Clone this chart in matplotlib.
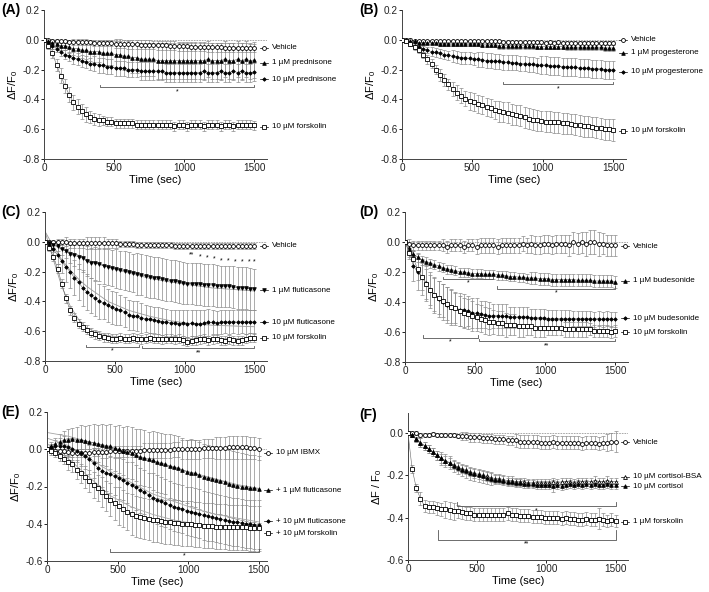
import matplotlib

matplotlib.use("Agg")
import matplotlib.pyplot as plt

plt.rcParams["font.family"] = ["Liberation Sans", "DejaVu Sans"]
plt.rcParams["mathtext.default"] = "regular"

# sampling grid (sec)
time_s = list(range(0, 1501, 30))

# ---------------- panel A ----------------
a_vehicle = [0.000, -0.003, -0.005, -0.007, -0.009, -0.010, -0.012, -0.013, -0.015, -0.016,
             -0.017, -0.018, -0.020, -0.021, -0.022, -0.023, -0.024, -0.025, -0.027, -0.028,
             -0.029, -0.030, -0.031, -0.032, -0.033, -0.034, -0.035, -0.036, -0.037, -0.038,
             -0.040, -0.041, -0.042, -0.043, -0.044, -0.045, -0.046, -0.047, -0.048, -0.049,
             -0.050, -0.050, -0.051, -0.052, -0.052, -0.053, -0.053, -0.054, -0.054, -0.055, -0.055]
a_vehicle_err = [0.00, 0.01, 0.01, 0.01, 0.01, 0.01, 0.01, 0.02, 0.02, 0.02,
                 0.02, 0.02, 0.02, 0.02, 0.02, 0.02, 0.02, 0.03, 0.03, 0.03,
                 0.03, 0.03, 0.03, 0.03, 0.03, 0.03, 0.03, 0.03, 0.03, 0.03,
                 0.03, 0.03, 0.03, 0.03, 0.03, 0.03, 0.03, 0.03, 0.03, 0.03,
                 0.03, 0.03, 0.03, 0.03, 0.03, 0.03, 0.03, 0.03, 0.03, 0.03, 0.03]
a_pred1 = [0.00, -0.01, -0.02, -0.03, -0.04, -0.04, -0.05, -0.06, -0.06, -0.07,
           -0.07, -0.08, -0.08, -0.08, -0.09, -0.09, -0.09, -0.10, -0.10, -0.11,
           -0.11, -0.12, -0.12, -0.13, -0.13, -0.13, -0.13, -0.14, -0.14, -0.14,
           -0.14, -0.14, -0.14, -0.14, -0.14, -0.14, -0.14, -0.14, -0.14, -0.13,
           -0.14, -0.14, -0.14, -0.13, -0.14, -0.14, -0.13, -0.14, -0.13, -0.14, -0.135]
a_pred1_err = [0.00, 0.01, 0.02, 0.02, 0.03, 0.03, 0.04, 0.04, 0.05, 0.05,
               0.06, 0.06, 0.07, 0.07, 0.08, 0.08, 0.08, 0.09, 0.09, 0.09,
               0.10, 0.10, 0.10, 0.11, 0.11, 0.11, 0.11, 0.12, 0.12, 0.12,
               0.12, 0.12, 0.12, 0.12, 0.12, 0.12, 0.12, 0.12, 0.12, 0.12,
               0.12, 0.12, 0.12, 0.12, 0.12, 0.12, 0.12, 0.12, 0.12, 0.12, 0.12]
a_pred10 = [0.00, -0.02, -0.04, -0.06, -0.08, -0.10, -0.11, -0.12, -0.13, -0.14,
            -0.15, -0.16, -0.16, -0.17, -0.17, -0.18, -0.18, -0.19, -0.19, -0.19,
            -0.20, -0.20, -0.20, -0.21, -0.21, -0.21, -0.21, -0.21, -0.21, -0.22,
            -0.22, -0.22, -0.22, -0.22, -0.22, -0.22, -0.22, -0.22, -0.21, -0.22,
            -0.22, -0.22, -0.21, -0.22, -0.22, -0.21, -0.22, -0.21, -0.22, -0.22, -0.215]
a_pred10_err = [0.00, 0.01, 0.02, 0.02, 0.03, 0.03, 0.03, 0.04, 0.04, 0.04,
                0.04, 0.04, 0.05, 0.05, 0.05, 0.05, 0.05, 0.05, 0.05, 0.05,
                0.05, 0.05, 0.05, 0.06, 0.06, 0.06, 0.06, 0.06, 0.06, 0.06,
                0.06, 0.06, 0.06, 0.06, 0.06, 0.06, 0.06, 0.06, 0.06, 0.06,
                0.06, 0.06, 0.06, 0.06, 0.06, 0.06, 0.06, 0.06, 0.06, 0.06, 0.06]
a_fsk = [0.00, -0.04, -0.09, -0.17, -0.24, -0.31, -0.37, -0.42, -0.45, -0.48,
         -0.50, -0.52, -0.53, -0.54, -0.54, -0.55, -0.55, -0.56, -0.56, -0.56,
         -0.56, -0.56, -0.57, -0.57, -0.57, -0.57, -0.57, -0.57, -0.57, -0.57,
         -0.57, -0.58, -0.57, -0.57, -0.58, -0.57, -0.57, -0.57, -0.58, -0.57,
         -0.57, -0.57, -0.58, -0.57, -0.57, -0.58, -0.57, -0.57, -0.57, -0.57, -0.575]
a_fsk_err = [0.00, 0.02, 0.03, 0.04, 0.05, 0.05, 0.05, 0.05, 0.05, 0.05,
             0.05, 0.04, 0.04, 0.04, 0.03, 0.03, 0.03, 0.03, 0.03, 0.03,
             0.03, 0.03, 0.03, 0.03, 0.03, 0.03, 0.03, 0.03, 0.03, 0.03,
             0.03, 0.03, 0.03, 0.03, 0.03, 0.03, 0.03, 0.03, 0.03, 0.03,
             0.03, 0.03, 0.03, 0.03, 0.03, 0.03, 0.03, 0.03, 0.03, 0.03, 0.03]

# ---------------- panel B ----------------
b_vehicle = [0.00, -0.00, -0.00, -0.01, -0.01, -0.01, -0.01, -0.01, -0.01, -0.01,
             -0.01, -0.01, -0.01, -0.01, -0.01, -0.01, -0.01, -0.01, -0.01, -0.01,
             -0.01, -0.01, -0.01, -0.01, -0.015, -0.015, -0.015, -0.015, -0.015, -0.015,
             -0.015, -0.015, -0.015, -0.015, -0.02, -0.015, -0.02, -0.015, -0.02, -0.02,
             -0.02, -0.02, -0.02, -0.02, -0.02, -0.02, -0.02, -0.02, -0.02, -0.02, -0.02]
b_vehicle_err = [0.00, 0.01, 0.01, 0.01, 0.01, 0.01, 0.01, 0.01, 0.01, 0.01,
                 0.01, 0.01, 0.01, 0.01, 0.01, 0.01, 0.01, 0.01, 0.01, 0.01,
                 0.01, 0.01, 0.01, 0.01, 0.01, 0.01, 0.01, 0.01, 0.01, 0.01,
                 0.01, 0.01, 0.01, 0.01, 0.01, 0.01, 0.01, 0.01, 0.01, 0.01,
                 0.01, 0.01, 0.01, 0.01, 0.01, 0.01, 0.01, 0.01, 0.01, 0.01, 0.01]
b_prog1 = [0.00, -0.00, -0.01, -0.01, -0.02, -0.02, -0.02, -0.02, -0.02, -0.03,
           -0.03, -0.03, -0.03, -0.03, -0.03, -0.03, -0.03, -0.03, -0.03, -0.035,
           -0.035, -0.035, -0.035, -0.04, -0.04, -0.04, -0.04, -0.04, -0.04, -0.04,
           -0.04, -0.04, -0.045, -0.045, -0.045, -0.045, -0.045, -0.045, -0.045, -0.05,
           -0.05, -0.05, -0.05, -0.05, -0.05, -0.05, -0.05, -0.05, -0.055, -0.055, -0.055]
b_prog1_err = [0.00, 0.01, 0.01, 0.01, 0.01, 0.01, 0.01, 0.01, 0.01, 0.01,
               0.01, 0.01, 0.01, 0.01, 0.01, 0.01, 0.01, 0.01, 0.01, 0.01,
               0.01, 0.01, 0.01, 0.02, 0.02, 0.02, 0.02, 0.02, 0.02, 0.02,
               0.02, 0.02, 0.02, 0.02, 0.02, 0.02, 0.02, 0.02, 0.02, 0.02,
               0.02, 0.02, 0.02, 0.02, 0.02, 0.02, 0.02, 0.02, 0.02, 0.02, 0.02]
b_prog10 = [0.00, -0.01, -0.03, -0.04, -0.05, -0.06, -0.07, -0.08, -0.085, -0.09,
            -0.10, -0.105, -0.11, -0.115, -0.12, -0.12, -0.125, -0.13, -0.13, -0.135,
            -0.14, -0.14, -0.145, -0.145, -0.15, -0.15, -0.155, -0.155, -0.16, -0.16,
            -0.165, -0.165, -0.17, -0.17, -0.17, -0.175, -0.175, -0.175, -0.18, -0.18,
            -0.185, -0.185, -0.19, -0.19, -0.19, -0.195, -0.195, -0.195, -0.20, -0.20, -0.20]
b_prog10_err = [0.00, 0.01, 0.01, 0.02, 0.02, 0.02, 0.02, 0.03, 0.03, 0.03,
                0.03, 0.03, 0.04, 0.04, 0.04, 0.04, 0.04, 0.04, 0.05, 0.05,
                0.05, 0.05, 0.05, 0.05, 0.05, 0.05, 0.05, 0.05, 0.05, 0.05,
                0.05, 0.05, 0.05, 0.06, 0.06, 0.06, 0.06, 0.06, 0.06, 0.06,
                0.06, 0.06, 0.06, 0.06, 0.06, 0.06, 0.06, 0.06, 0.06, 0.06, 0.06]
b_fsk = [0.00, -0.01, -0.03, -0.05, -0.07, -0.10, -0.13, -0.16, -0.20, -0.235,
         -0.27, -0.30, -0.33, -0.355, -0.375, -0.395, -0.41, -0.42, -0.43, -0.44,
         -0.45, -0.46, -0.47, -0.48, -0.485, -0.49, -0.50, -0.505, -0.51, -0.52,
         -0.53, -0.535, -0.54, -0.545, -0.55, -0.55, -0.555, -0.555, -0.56, -0.56,
         -0.565, -0.57, -0.575, -0.58, -0.58, -0.585, -0.59, -0.595, -0.60, -0.60, -0.605]
b_fsk_err = [0.00, 0.01, 0.01, 0.02, 0.02, 0.02, 0.03, 0.03, 0.03, 0.04,
             0.04, 0.04, 0.05, 0.05, 0.05, 0.05, 0.06, 0.06, 0.06, 0.06,
             0.06, 0.06, 0.06, 0.07, 0.07, 0.07, 0.07, 0.07, 0.07, 0.07,
             0.07, 0.07, 0.07, 0.07, 0.07, 0.07, 0.07, 0.07, 0.07, 0.07,
             0.07, 0.07, 0.07, 0.07, 0.07, 0.07, 0.07, 0.07, 0.07, 0.07, 0.075]

# ---------------- panel C ----------------
c_vehicle = [0.00, 0.00, 0.00, 0.00, -0.00, -0.00, -0.01, -0.01, -0.01, -0.01,
             -0.01, -0.01, -0.01, -0.01, -0.01, -0.01, -0.01, -0.01, -0.015, -0.015,
             -0.015, -0.015, -0.02, -0.02, -0.02, -0.02, -0.02, -0.02, -0.02, -0.02,
             -0.02, -0.025, -0.025, -0.025, -0.025, -0.025, -0.025, -0.025, -0.025, -0.025,
             -0.025, -0.03, -0.03, -0.03, -0.03, -0.03, -0.03, -0.03, -0.03, -0.03, -0.03]
c_vehicle_err = [0.00, 0.01, 0.01, 0.02, 0.02, 0.03, 0.03, 0.03, 0.03, 0.03,
                 0.04, 0.04, 0.04, 0.04, 0.04, 0.03, 0.03, 0.03, 0.02, 0.02,
                 0.02, 0.02, 0.02, 0.02, 0.02, 0.02, 0.02, 0.02, 0.02, 0.02,
                 0.02, 0.02, 0.02, 0.02, 0.02, 0.02, 0.02, 0.02, 0.02, 0.02,
                 0.02, 0.02, 0.02, 0.02, 0.02, 0.02, 0.02, 0.02, 0.02, 0.02, 0.02]
c_flu1 = [0.00, -0.01, -0.02, -0.03, -0.05, -0.06, -0.08, -0.09, -0.10, -0.11,
          -0.13, -0.14, -0.145, -0.15, -0.16, -0.17, -0.175, -0.18, -0.19, -0.195,
          -0.20, -0.21, -0.215, -0.22, -0.23, -0.235, -0.24, -0.245, -0.25, -0.255,
          -0.26, -0.265, -0.27, -0.275, -0.28, -0.28, -0.285, -0.285, -0.29, -0.29,
          -0.29, -0.295, -0.30, -0.30, -0.30, -0.305, -0.31, -0.31, -0.31, -0.315, -0.32]
c_flu1_err = [0.00, 0.01, 0.02, 0.03, 0.04, 0.05, 0.06, 0.07, 0.08, 0.09,
              0.10, 0.10, 0.11, 0.11, 0.12, 0.12, 0.12, 0.13, 0.13, 0.13,
              0.13, 0.13, 0.14, 0.14, 0.14, 0.14, 0.14, 0.14, 0.14, 0.14,
              0.14, 0.14, 0.14, 0.14, 0.14, 0.14, 0.14, 0.14, 0.14, 0.14,
              0.14, 0.14, 0.14, 0.14, 0.14, 0.14, 0.14, 0.14, 0.14, 0.14, 0.14]
c_flu10 = [0.00, -0.02, -0.05, -0.09, -0.13, -0.17, -0.20, -0.24, -0.27, -0.31,
           -0.335, -0.36, -0.38, -0.40, -0.41, -0.425, -0.44, -0.45, -0.46, -0.47,
           -0.49, -0.495, -0.50, -0.51, -0.515, -0.52, -0.525, -0.53, -0.535, -0.54,
           -0.545, -0.545, -0.55, -0.545, -0.55, -0.545, -0.55, -0.55, -0.545, -0.54,
           -0.54, -0.545, -0.54, -0.535, -0.54, -0.535, -0.54, -0.535, -0.54, -0.535, -0.54]
c_flu10_err = [0.00, 0.02, 0.04, 0.06, 0.08, 0.10, 0.11, 0.12, 0.12, 0.12,
               0.12, 0.12, 0.12, 0.12, 0.11, 0.11, 0.11, 0.11, 0.10, 0.10,
               0.10, 0.10, 0.10, 0.10, 0.09, 0.09, 0.09, 0.09, 0.09, 0.09,
               0.09, 0.09, 0.09, 0.09, 0.09, 0.09, 0.09, 0.09, 0.09, 0.09,
               0.08, 0.08, 0.08, 0.08, 0.08, 0.08, 0.08, 0.08, 0.08, 0.08, 0.08]
c_fsk = [0.00, -0.04, -0.10, -0.18, -0.28, -0.38, -0.46, -0.51, -0.55, -0.57,
         -0.59, -0.61, -0.62, -0.63, -0.64, -0.645, -0.65, -0.65, -0.645, -0.65,
         -0.65, -0.645, -0.65, -0.655, -0.65, -0.645, -0.65, -0.65, -0.655, -0.65,
         -0.65, -0.655, -0.65, -0.66, -0.67, -0.665, -0.66, -0.655, -0.65, -0.66,
         -0.655, -0.65, -0.66, -0.665, -0.655, -0.66, -0.665, -0.66, -0.65, -0.645, -0.645]
c_fsk_err = [0.00, 0.02, 0.03, 0.03, 0.03, 0.03, 0.03, 0.03, 0.03, 0.03,
             0.03, 0.03, 0.03, 0.03, 0.03, 0.03, 0.03, 0.03, 0.03, 0.03,
             0.03, 0.03, 0.03, 0.03, 0.03, 0.03, 0.03, 0.03, 0.03, 0.03,
             0.03, 0.03, 0.03, 0.03, 0.03, 0.03, 0.03, 0.03, 0.03, 0.03,
             0.03, 0.03, 0.03, 0.03, 0.03, 0.03, 0.03, 0.03, 0.03, 0.03, 0.03]
# one-phase fits drawn in grey
c_fit_t = [0, 60, 120, 180, 240, 300, 450, 600, 750, 900, 1050, 1200, 1350, 1500]
c_fit_flu1 = [0.0, -0.02, -0.05, -0.07, -0.09, -0.12, -0.17, -0.21, -0.245, -0.27, -0.29, -0.31, -0.32, -0.33]
c_fit_flu10 = [0.07, -0.03, -0.12, -0.19, -0.25, -0.30, -0.40, -0.46, -0.50, -0.53, -0.55, -0.56, -0.565, -0.57]
c_fit_fsk = [0.07, -0.12, -0.30, -0.43, -0.52, -0.58, -0.63, -0.645, -0.65, -0.65, -0.65, -0.65, -0.65, -0.65]
c_star_t = [1050, 1110, 1160, 1210, 1260, 1310, 1360, 1410, 1460, 1500]
c_star_y = [-0.09, -0.10, -0.11, -0.115, -0.125, -0.13, -0.135, -0.135, -0.135, -0.135]
c_star_txt = ["**", "*", "*", "*", "*", "*", "*", "*", "*", "*"]

# ---------------- panel D ----------------
d_vehicle = [0.00, -0.01, -0.02, -0.02, -0.02, -0.02, -0.02, -0.02, -0.02, -0.02,
             -0.03, -0.02, -0.02, -0.02, -0.03, -0.02, -0.02, -0.03, -0.02, -0.02,
             -0.02, -0.02, -0.03, -0.02, -0.02, -0.02, -0.02, -0.02, -0.01, -0.02,
             -0.01, -0.02, -0.02, -0.01, -0.01, -0.02, -0.01, -0.01, -0.01, -0.02,
             0.00, -0.01, 0.00, -0.01, 0.00, 0.00, -0.01, -0.01, -0.02, -0.02, -0.02]
d_vehicle_err = [0.00, 0.03, 0.03, 0.03, 0.03, 0.03, 0.03, 0.03, 0.03, 0.04,
                 0.04, 0.04, 0.04, 0.04, 0.04, 0.04, 0.04, 0.05, 0.05, 0.05,
                 0.05, 0.05, 0.05, 0.05, 0.05, 0.05, 0.05, 0.05, 0.05, 0.05,
                 0.06, 0.06, 0.06, 0.06, 0.06, 0.06, 0.06, 0.06, 0.06, 0.07,
                 0.07, 0.07, 0.07, 0.08, 0.08, 0.08, 0.08, 0.07, 0.07, 0.07, 0.07]
d_bud1 = [0.00, -0.04, -0.08, -0.10, -0.12, -0.13, -0.14, -0.15, -0.16, -0.17,
          -0.18, -0.185, -0.19, -0.20, -0.20, -0.205, -0.21, -0.21, -0.21, -0.215,
          -0.215, -0.215, -0.22, -0.22, -0.225, -0.23, -0.23, -0.235, -0.235, -0.24,
          -0.24, -0.24, -0.245, -0.245, -0.245, -0.25, -0.25, -0.25, -0.25, -0.25,
          -0.25, -0.255, -0.255, -0.255, -0.255, -0.26, -0.26, -0.26, -0.26, -0.26, -0.265]
d_bud1_err = [0.00, 0.02, 0.03, 0.03, 0.03, 0.03, 0.03, 0.03, 0.03, 0.03,
              0.03, 0.03, 0.03, 0.03, 0.03, 0.03, 0.03, 0.03, 0.03, 0.03,
              0.03, 0.03, 0.03, 0.03, 0.03, 0.03, 0.03, 0.03, 0.03, 0.03,
              0.04, 0.04, 0.04, 0.04, 0.04, 0.04, 0.04, 0.04, 0.04, 0.04,
              0.04, 0.04, 0.04, 0.04, 0.04, 0.04, 0.04, 0.04, 0.04, 0.04, 0.04]
d_bud10 = [0.00, -0.06, -0.16, -0.20, -0.23, -0.27, -0.32, -0.35, -0.38, -0.40,
           -0.42, -0.43, -0.44, -0.45, -0.455, -0.46, -0.47, -0.475, -0.48, -0.485,
           -0.49, -0.49, -0.49, -0.495, -0.495, -0.50, -0.50, -0.50, -0.50, -0.50,
           -0.505, -0.505, -0.505, -0.505, -0.51, -0.51, -0.51, -0.51, -0.51, -0.51,
           -0.51, -0.51, -0.51, -0.51, -0.51, -0.515, -0.51, -0.515, -0.51, -0.515, -0.515]
d_bud10_err = [0.00, 0.05, 0.10, 0.12, 0.12, 0.12, 0.12, 0.12, 0.12, 0.12,
               0.12, 0.12, 0.11, 0.11, 0.11, 0.10, 0.10, 0.10, 0.09, 0.09,
               0.09, 0.08, 0.08, 0.08, 0.08, 0.07, 0.07, 0.07, 0.07, 0.07,
               0.06, 0.06, 0.06, 0.06, 0.06, 0.06, 0.06, 0.06, 0.06, 0.06,
               0.05, 0.05, 0.05, 0.05, 0.05, 0.05, 0.05, 0.05, 0.05, 0.05, 0.05]
d_fsk = [0.00, -0.07, -0.11, -0.18, -0.23, -0.28, -0.32, -0.35, -0.37, -0.39,
         -0.41, -0.43, -0.44, -0.46, -0.47, -0.48, -0.49, -0.50, -0.51, -0.52,
         -0.53, -0.53, -0.54, -0.54, -0.55, -0.55, -0.55, -0.56, -0.56, -0.56,
         -0.56, -0.57, -0.57, -0.57, -0.57, -0.57, -0.57, -0.57, -0.58, -0.58,
         -0.58, -0.58, -0.58, -0.58, -0.58, -0.59, -0.59, -0.59, -0.59, -0.60, -0.595]
d_fsk_err = [0.00, 0.03, 0.05, 0.07, 0.09, 0.10, 0.10, 0.11, 0.11, 0.11,
             0.11, 0.11, 0.10, 0.10, 0.10, 0.10, 0.10, 0.09, 0.09, 0.09,
             0.09, 0.08, 0.08, 0.08, 0.08, 0.07, 0.07, 0.07, 0.07, 0.06,
             0.06, 0.06, 0.06, 0.06, 0.05, 0.05, 0.05, 0.05, 0.05, 0.05,
             0.05, 0.05, 0.05, 0.05, 0.04, 0.04, 0.04, 0.04, 0.04, 0.04, 0.04]

# ---------------- panel E ----------------
e_ibmx = [0.00, -0.00, -0.01, -0.01, -0.01, -0.015, -0.02, -0.02, -0.02, -0.02,
          -0.02, -0.015, -0.015, -0.015, -0.015, -0.01, -0.01, -0.01, -0.01, -0.01,
          -0.01, -0.01, -0.01, -0.005, -0.005, -0.005, -0.005, -0.005, -0.005, -0.005,
          0.00, 0.00, 0.00, 0.00, 0.00, 0.00, 0.00, 0.005, 0.005, 0.005,
          0.005, 0.005, 0.005, 0.01, 0.01, 0.01, 0.01, 0.01, 0.005, 0.005, 0.00]
e_ibmx_err = [0.00, 0.01, 0.01, 0.01, 0.02, 0.02, 0.02, 0.02, 0.02, 0.02,
              0.02, 0.02, 0.02, 0.03, 0.03, 0.03, 0.03, 0.03, 0.03, 0.03,
              0.03, 0.03, 0.03, 0.04, 0.04, 0.04, 0.04, 0.04, 0.04, 0.04,
              0.04, 0.04, 0.05, 0.05, 0.05, 0.05, 0.05, 0.05, 0.05, 0.05,
              0.06, 0.06, 0.06, 0.06, 0.06, 0.06, 0.06, 0.06, 0.06, 0.06, 0.06]
e_flu1 = [0.00, 0.02, 0.03, 0.04, 0.05, 0.05, 0.055, 0.05, 0.05, 0.045,
          0.04, 0.035, 0.03, 0.025, 0.02, 0.015, 0.005, 0.00, -0.01, -0.015,
          -0.02, -0.03, -0.04, -0.045, -0.055, -0.06, -0.07, -0.075, -0.08, -0.09,
          -0.095, -0.10, -0.11, -0.12, -0.125, -0.13, -0.14, -0.15, -0.155, -0.16,
          -0.165, -0.17, -0.175, -0.185, -0.19, -0.195, -0.20, -0.205, -0.21, -0.21, -0.215]
e_flu1_err = [0.00, 0.02, 0.03, 0.04, 0.05, 0.06, 0.06, 0.07, 0.08, 0.08,
              0.09, 0.10, 0.10, 0.11, 0.11, 0.12, 0.12, 0.13, 0.13, 0.14,
              0.14, 0.14, 0.15, 0.15, 0.15, 0.16, 0.16, 0.16, 0.16, 0.17,
              0.17, 0.17, 0.17, 0.17, 0.18, 0.18, 0.18, 0.18, 0.18, 0.18,
              0.18, 0.18, 0.18, 0.18, 0.18, 0.18, 0.18, 0.18, 0.18, 0.18, 0.18]
e_flu10 = [0.00, 0.01, 0.02, 0.02, 0.02, 0.01, 0.00, -0.01, -0.02, -0.035,
           -0.055, -0.075, -0.10, -0.115, -0.125, -0.135, -0.145, -0.155, -0.165, -0.18,
           -0.19, -0.205, -0.22, -0.23, -0.245, -0.26, -0.27, -0.28, -0.29, -0.30,
           -0.31, -0.315, -0.32, -0.33, -0.335, -0.34, -0.345, -0.355, -0.36, -0.365,
           -0.37, -0.375, -0.38, -0.385, -0.39, -0.39, -0.395, -0.40, -0.40, -0.405, -0.405]
e_flu10_err = [0.00, 0.02, 0.03, 0.04, 0.05, 0.05, 0.06, 0.06, 0.07, 0.07,
               0.08, 0.08, 0.09, 0.09, 0.10, 0.10, 0.10, 0.11, 0.11, 0.11,
               0.12, 0.12, 0.12, 0.12, 0.12, 0.13, 0.13, 0.13, 0.13, 0.13,
               0.13, 0.13, 0.13, 0.13, 0.13, 0.13, 0.13, 0.13, 0.13, 0.13,
               0.13, 0.13, 0.13, 0.13, 0.13, 0.13, 0.13, 0.13, 0.13, 0.13, 0.13]
e_fsk = [0.00, -0.01, -0.02, -0.035, -0.05, -0.07, -0.08, -0.11, -0.13, -0.15,
         -0.17, -0.19, -0.21, -0.23, -0.25, -0.27, -0.29, -0.305, -0.32, -0.335,
         -0.35, -0.36, -0.365, -0.37, -0.375, -0.38, -0.38, -0.385, -0.39, -0.39,
         -0.395, -0.395, -0.40, -0.40, -0.40, -0.405, -0.405, -0.41, -0.41, -0.41,
         -0.415, -0.415, -0.415, -0.42, -0.42, -0.42, -0.42, -0.42, -0.425, -0.425, -0.425]
e_fsk_err = [0.00, 0.02, 0.02, 0.03, 0.03, 0.04, 0.04, 0.05, 0.05, 0.06,
             0.06, 0.07, 0.07, 0.08, 0.08, 0.09, 0.09, 0.10, 0.10, 0.10,
             0.11, 0.11, 0.11, 0.11, 0.11, 0.12, 0.12, 0.12, 0.12, 0.12,
             0.12, 0.12, 0.12, 0.12, 0.12, 0.12, 0.12, 0.12, 0.12, 0.12,
             0.12, 0.12, 0.12, 0.12, 0.12, 0.12, 0.12, 0.12, 0.12, 0.12, 0.12]
e_fit_t = [0, 150, 300, 450, 600, 750, 900, 1050, 1200, 1350, 1500]
e_fit_flu1 = [0.09, 0.07, 0.04, 0.01, -0.03, -0.07, -0.10, -0.13, -0.16, -0.19, -0.21]
e_fit_flu10 = [0.06, 0.02, -0.05, -0.12, -0.18, -0.24, -0.28, -0.32, -0.35, -0.37, -0.39]
e_fit_fsk = [0.03, -0.05, -0.15, -0.25, -0.31, -0.35, -0.38, -0.40, -0.41, -0.42, -0.425]

# ---------------- panel F ----------------
f_vehicle = [0.00, -0.00, -0.00, -0.01, -0.01, -0.01, -0.005, -0.01, -0.01, -0.01,
             -0.01, -0.01, -0.015, -0.015, -0.015, -0.02, -0.02, -0.02, -0.025, -0.025,
             -0.025, -0.03, -0.03, -0.03, -0.035, -0.035, -0.035, -0.04, -0.04, -0.04,
             -0.04, -0.04, -0.045, -0.045, -0.045, -0.04, -0.045, -0.045, -0.045, -0.045,
             -0.045, -0.045, -0.05, -0.045, -0.045, -0.045, -0.05, -0.045, -0.045, -0.04, -0.04]
f_vehicle_err = [0.00, 0.01, 0.01, 0.01, 0.01, 0.01, 0.01, 0.01, 0.01, 0.01,
                 0.01, 0.01, 0.01, 0.02, 0.02, 0.02, 0.02, 0.02, 0.02, 0.02,
                 0.02, 0.02, 0.02, 0.02, 0.02, 0.02, 0.03, 0.03, 0.03, 0.03,
                 0.03, 0.03, 0.03, 0.03, 0.03, 0.03, 0.03, 0.03, 0.03, 0.03,
                 0.03, 0.03, 0.03, 0.03, 0.03, 0.03, 0.03, 0.03, 0.04, 0.04, 0.05]
f_cort_bsa = [0.00, -0.01, -0.03, -0.045, -0.06, -0.075, -0.09, -0.105, -0.12, -0.13,
              -0.14, -0.15, -0.16, -0.17, -0.175, -0.185, -0.19, -0.195, -0.20, -0.205,
              -0.21, -0.215, -0.215, -0.22, -0.225, -0.225, -0.23, -0.23, -0.23, -0.235,
              -0.235, -0.235, -0.235, -0.235, -0.235, -0.23, -0.235, -0.23, -0.23, -0.23,
              -0.235, -0.23, -0.23, -0.23, -0.23, -0.225, -0.23, -0.23, -0.225, -0.23, -0.23]
f_cort_bsa_err = [0.00, 0.01, 0.01, 0.02, 0.02, 0.02, 0.02, 0.02, 0.02, 0.02,
                  0.02, 0.02, 0.02, 0.02, 0.02, 0.02, 0.02, 0.02, 0.02, 0.02,
                  0.02, 0.02, 0.02, 0.02, 0.02, 0.02, 0.02, 0.02, 0.02, 0.02,
                  0.02, 0.02, 0.02, 0.02, 0.02, 0.02, 0.02, 0.02, 0.02, 0.02,
                  0.02, 0.02, 0.02, 0.02, 0.02, 0.02, 0.02, 0.02, 0.02, 0.02, 0.02]
f_cort = [0.00, -0.01, -0.03, -0.045, -0.06, -0.075, -0.09, -0.105, -0.12, -0.13,
          -0.14, -0.155, -0.165, -0.175, -0.18, -0.19, -0.195, -0.20, -0.205, -0.21,
          -0.215, -0.22, -0.22, -0.225, -0.23, -0.23, -0.235, -0.235, -0.24, -0.24,
          -0.24, -0.245, -0.245, -0.245, -0.245, -0.25, -0.245, -0.25, -0.245, -0.24,
          -0.245, -0.24, -0.245, -0.24, -0.245, -0.24, -0.245, -0.245, -0.24, -0.245, -0.245]
f_cort_err = [0.00, 0.01, 0.01, 0.02, 0.02, 0.02, 0.02, 0.02, 0.03, 0.03,
              0.03, 0.03, 0.03, 0.03, 0.03, 0.03, 0.03, 0.03, 0.03, 0.03,
              0.03, 0.02, 0.02, 0.02, 0.02, 0.02, 0.02, 0.02, 0.02, 0.02,
              0.02, 0.02, 0.02, 0.02, 0.02, 0.03, 0.02, 0.02, 0.02, 0.02,
              0.02, 0.02, 0.02, 0.02, 0.02, 0.02, 0.02, 0.02, 0.02, 0.02, 0.02]
f_fsk = [0.00, -0.17, -0.26, -0.31, -0.345, -0.35, -0.35, -0.355, -0.36, -0.36,
         -0.365, -0.37, -0.37, -0.375, -0.38, -0.38, -0.385, -0.385, -0.385, -0.385,
         -0.385, -0.385, -0.385, -0.385, -0.38, -0.385, -0.385, -0.39, -0.39, -0.39,
         -0.395, -0.395, -0.395, -0.40, -0.40, -0.40, -0.40, -0.405, -0.40, -0.405,
         -0.405, -0.41, -0.41, -0.405, -0.41, -0.41, -0.405, -0.41, -0.415, -0.41, -0.415]
f_fsk_err = [0.00, 0.02, 0.02, 0.03, 0.03, 0.03, 0.03, 0.03, 0.03, 0.04,
             0.04, 0.04, 0.03, 0.03, 0.03, 0.03, 0.03, 0.03, 0.03, 0.03,
             0.03, 0.03, 0.03, 0.03, 0.03, 0.03, 0.03, 0.03, 0.03, 0.03,
             0.03, 0.03, 0.03, 0.03, 0.03, 0.03, 0.03, 0.03, 0.03, 0.03,
             0.03, 0.03, 0.03, 0.03, 0.03, 0.03, 0.05, 0.03, 0.03, 0.03, 0.03]

# marker styles: (marker, size, filled)
STYLE = {
    "open_circle": ("o", 2.8, False),
    "triangle": ("^", 2.6, True),
    "triangle_down": ("v", 2.6, True),
    "open_triangle": ("^", 2.8, False),
    "dot": ("D", 1.8, True),
    "open_square": ("s", 3.4, False),
}

ERR_COLOR = "#8a8a8a"


def check(name, values):
    if len(values) != len(time_s):
        raise ValueError(f"{name} has {len(values)} values")


def plot_series(ax, y, err, style, times=time_s):
    marker, size, filled = STYLE[style]
    ax.errorbar(times, y, yerr=err, fmt="none", ecolor=ERR_COLOR,
                elinewidth=0.5, capsize=1.4, capthick=0.5, zorder=1)
    ax.plot(times, y, color="#666666", linewidth=0.4, marker=marker,
            markersize=size, markeredgewidth=0.6, markeredgecolor="black",
            markerfacecolor="black" if filled else "white", zorder=3)


def inline_label(ax, y, text, style):
    marker, size, filled = STYLE[style]
    ax.plot([1540, 1595], [y, y], color="black", linewidth=0.5, clip_on=False)
    ax.plot([1567], [y], marker=marker, markersize=size, markeredgewidth=0.6,
            markeredgecolor="black",
            markerfacecolor="black" if filled else "white", clip_on=False)
    ax.text(1625, y, text, fontsize=5.8, va="center", ha="left")


def bracket(ax, x0, x1, y, text, h=0.015, dy=0.03):
    ax.plot([x0, x0, x1, x1], [y + h, y, y, y + h], color="#555555",
            linewidth=0.6, zorder=2)
    ax.text((x0 + x1) / 2, y - dy, text, fontsize=5, ha="center", va="center")


def style_axes(ax, ylim, yticks, xmax=1590, ylabel="ΔF/F$_0$"):
    ax.set_xlim(0, xmax)
    ax.set_ylim(*ylim)
    ax.set_xticks([0, 500, 1000, 1500])
    ax.set_yticks(yticks)
    ax.set_yticklabels([f"{v:.1f}" for v in yticks])
    ax.spines["top"].set_visible(False)
    ax.spines["right"].set_visible(False)
    for side in ("left", "bottom"):
        ax.spines[side].set_linewidth(0.7)
        ax.spines[side].set_color("#444444")
    ax.tick_params(direction="out", length=2, width=0.7, labelsize=7.2,
                   pad=1, colors="#222222")
    ax.set_xlabel("Time (sec)", fontsize=8, labelpad=1)
    ax.set_ylabel(ylabel, fontsize=8, labelpad=2)
    ax.axhline(0, color="#9a9a9a", linewidth=0.6, linestyle=(0, (2, 1.2)),
               zorder=0)


def add_axes(fig, left, top, right, bottom):
    W, H = 709, 592
    return fig.add_axes([left / W, 1 - bottom / H, (right - left) / W,
                         (bottom - top) / H])


for name, vals in list(globals().items()):
    if name[:2] in ("a_", "b_", "c_", "d_", "e_", "f_") and "fit" not in name \
            and "star" not in name:
        check(name, vals)

fig = plt.figure(figsize=(7.09, 5.92), dpi=100)
ticks_08 = [0.2, 0.0, -0.2, -0.4, -0.6, -0.8]

# (A) prednisone
ax = add_axes(fig, 44, 10, 267, 159)
style_axes(ax, (-0.8, 0.2), ticks_08)
plot_series(ax, a_vehicle, a_vehicle_err, "open_circle")
plot_series(ax, a_pred1, a_pred1_err, "triangle")
plot_series(ax, a_pred10, a_pred10_err, "dot")
plot_series(ax, a_fsk, a_fsk_err, "open_square")
bracket(ax, 400, 1500, -0.32, "*")
inline_label(ax, -0.053, "Vehicle", "open_circle")
inline_label(ax, -0.153, "1 µM prednisone", "triangle")
inline_label(ax, -0.265, "10 µM prednisone", "dot")
inline_label(ax, -0.585, "10 µM forskolin", "open_square")

# (B) progesterone
ax = add_axes(fig, 402, 10, 626, 159)
style_axes(ax, (-0.8, 0.2), ticks_08)
plot_series(ax, b_vehicle, b_vehicle_err, "open_circle")
plot_series(ax, b_prog1, b_prog1_err, "triangle")
plot_series(ax, b_prog10, b_prog10_err, "dot")
plot_series(ax, b_fsk, b_fsk_err, "open_square")
bracket(ax, 720, 1500, -0.30, "*")
inline_label(ax, 0.0, "Vehicle", "open_circle")
inline_label(ax, -0.086, "1 µM progesterone", "triangle")
inline_label(ax, -0.214, "10 µM progesterone", "dot")
inline_label(ax, -0.61, "10 µM forskolin", "open_square")

# (C) fluticasone
ax = add_axes(fig, 45, 212, 267, 361)
style_axes(ax, (-0.8, 0.2), ticks_08)
for fit in (c_fit_flu1, c_fit_flu10, c_fit_fsk):
    ax.plot(c_fit_t, fit, color="#9a9a9a", linewidth=0.6, zorder=2)
plot_series(ax, c_vehicle, c_vehicle_err, "open_circle")
plot_series(ax, c_flu1, c_flu1_err, "triangle_down")
plot_series(ax, c_flu10, c_flu10_err, "dot")
plot_series(ax, c_fsk, c_fsk_err, "open_square")
for t, y, s in zip(c_star_t, c_star_y, c_star_txt):
    ax.text(t, y, s, fontsize=5, ha="center", va="center")
bracket(ax, 295, 675, -0.705, "*")
bracket(ax, 695, 1500, -0.715, "**")
inline_label(ax, -0.025, "Vehicle", "open_circle")
inline_label(ax, -0.324, "1 µM fluticasone", "triangle_down")
inline_label(ax, -0.54, "10 µM fluticasone", "dot")
inline_label(ax, -0.645, "10 µM forskolin", "open_square")

# (D) budesonide
ax = add_axes(fig, 405, 212, 628, 362)
style_axes(ax, (-0.8, 0.2), ticks_08)
plot_series(ax, d_vehicle, d_vehicle_err, "open_circle")
plot_series(ax, d_bud1, d_bud1_err, "triangle")
plot_series(ax, d_bud10, d_bud10_err, "dot")
plot_series(ax, d_fsk, d_fsk_err, "open_square")
bracket(ax, 270, 626, -0.245, "*")
bracket(ax, 655, 1495, -0.31, "*")
bracket(ax, 128, 520, -0.638, "*")
bracket(ax, 526, 1495, -0.66, "**")
inline_label(ax, -0.029, "Vehicle", "open_circle")
inline_label(ax, -0.258, "1 µM budesonide", "triangle")
inline_label(ax, -0.507, "10 µM budesonide", "dot")
inline_label(ax, -0.60, "10 µM forskolin", "open_square")

# (E) IBMX background
ax = add_axes(fig, 47, 412, 267, 561)
style_axes(ax, (-0.6, 0.2), [0.2, 0.0, -0.2, -0.4, -0.6], xmax=1560)
for fit in (e_fit_flu1, e_fit_flu10, e_fit_fsk):
    ax.plot(e_fit_t, fit, color="#a5a5a5", linewidth=0.6, zorder=2)
plot_series(ax, e_ibmx, e_ibmx_err, "open_circle")
plot_series(ax, e_flu1, e_flu1_err, "triangle")
plot_series(ax, e_flu10, e_flu10_err, "dot")
plot_series(ax, e_fsk, e_fsk_err, "open_square")
bracket(ax, 450, 1500, -0.55, "*", h=0.012, dy=0.022)
inline_label(ax, -0.018, "10 µM IBMX", "open_circle")
inline_label(ax, -0.22, "+ 1 µM fluticasone", "triangle")
inline_label(ax, -0.386, "+ 10 µM fluticasone", "dot")
inline_label(ax, -0.452, "+ 10 µM forskolin", "open_square")

# (F) cortisol / cortisol-BSA
ax = add_axes(fig, 408, 413, 628, 560)
style_axes(ax, (-0.6, 0.095), [0.0, -0.2, -0.4, -0.6],
           ylabel="ΔF / F$_0$")
plot_series(ax, f_vehicle, f_vehicle_err, "open_circle")
plot_series(ax, f_cort_bsa, f_cort_bsa_err, "open_triangle")
plot_series(ax, f_cort, f_cort_err, "triangle")
plot_series(ax, f_fsk, f_fsk_err, "open_square")
bracket(ax, 355, 1500, -0.345, "*", h=0.02, dy=0.025)
bracket(ax, 217, 1500, -0.505, "**", h=0.045, dy=0.02)
inline_label(ax, -0.044, "Vehicle", "open_circle")
inline_label(ax, -0.206, "10 µM cortisol-BSA", "open_triangle")
inline_label(ax, -0.252, "10 µM cortisol", "triangle")
inline_label(ax, -0.42, "1 µM forskolin", "open_square")

# panel letters
for letter, x, y in [("(A)", 1, 10), ("(B)", 359, 10), ("(C)", 1, 212),
                     ("(D)", 359, 212), ("(E)", 1, 412), ("(F)", 359, 415)]:
    fig.text(x / 709, 1 - y / 592, letter, fontsize=10, fontweight="bold",
             ha="left", va="center")

fig.savefig("out.png", dpi=100)
plt.close(fig)
